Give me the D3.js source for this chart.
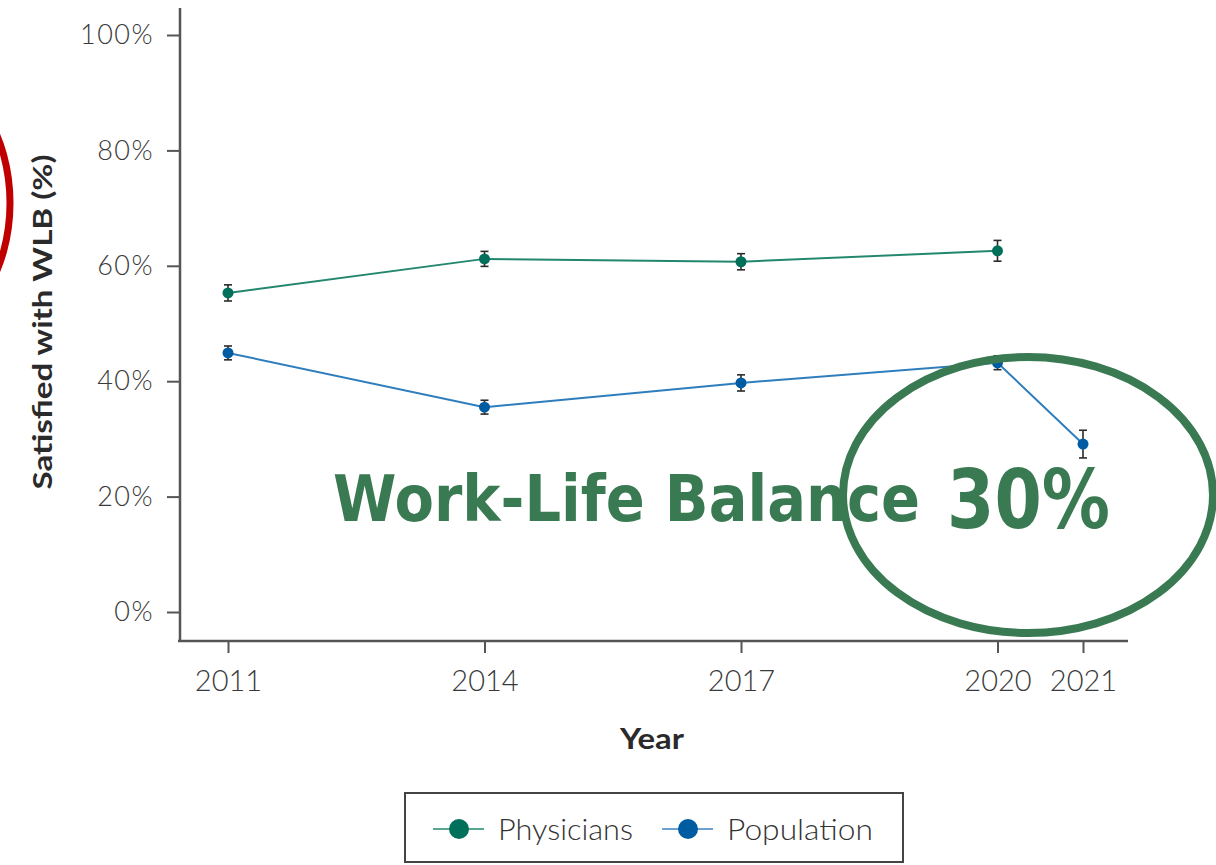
<!DOCTYPE html>
<html>
<head>
<meta charset="utf-8">
<script src="https://cdn.jsdelivr.net/npm/d3@7"></script>
<style>
  html, body { margin: 0; padding: 0; background: #fff; }
  svg { display: block; }
</style>
</head>
<body>
<div id="vis"></div>
<script>
const FRAME_WIDTH = 1216;
const FRAME_HEIGHT = 865;

// survey years and share satisfied with work-life balance (%)
const physYears = [2011, 2014, 2017, 2020];
const physValues = [55.3, 61.2, 60.7, 62.6];
const physErr = [1.4, 1.3, 1.4, 1.8];

const popYears = [2011, 2014, 2017, 2020, 2021];
const popValues = [44.9, 35.5, 39.7, 43.2, 29.1];
const popErr = [1.2, 1.2, 1.4, 1.2, 2.4];

const yearTicks = [2011, 2014, 2017, 2020, 2021];
const pctTicks = [0, 20, 40, 60, 80, 100];

const PHYS_DOT = '#00705a';
const PHYS_LINE = '#23876f';
const POP_DOT = '#005ca2';
const POP_LINE = '#2e7dbd';
const AXIS = '#555';
const NOTE_GREEN = '#3a7a52';
const TEXT_FONT = 'Lato, "Open Sans", sans-serif';

const svg = d3.select('#vis')
  .append('svg')
    .attr('width', FRAME_WIDTH)
    .attr('height', FRAME_HEIGHT);

// scales
const X_SCALE = d3.scaleLinear()
  .domain([2011, 2021])
  .range([228, 1083]);

const Y_SCALE = d3.scaleLinear()
  .domain([0, 100])
  .range([612, 35]);

// y axis
const yAxis = svg.append('g')
  .attr('transform', 'translate(180,0)')
  .call(d3.axisLeft(Y_SCALE).tickValues(pctTicks).tickSize(13).tickPadding(13)
    .tickFormat(d => d + '%'));
yAxis.select('.domain').remove();
yAxis.selectAll('line').attr('stroke', AXIS).attr('stroke-width', 2);
yAxis.selectAll('text')
  .attr('fill', '#3a3a3a')
  .attr('font-family', TEXT_FONT)
  .attr('font-weight', 300)
  .attr('font-size', '27px')
  .attr('letter-spacing', '1.5px');

svg.append('line')
  .attr('x1', 180).attr('x2', 180)
  .attr('y1', 8).attr('y2', 642)
  .attr('stroke', AXIS).attr('stroke-width', 2.5);

// x axis
const xAxis = svg.append('g')
  .attr('transform', 'translate(0,641)')
  .call(d3.axisBottom(X_SCALE).tickValues(yearTicks).tickSize(12).tickPadding(17)
    .tickFormat(d3.format('d')));
xAxis.select('.domain').remove();
xAxis.selectAll('line').attr('stroke', AXIS).attr('stroke-width', 2);
xAxis.selectAll('text')
  .attr('fill', '#3a3a3a')
  .attr('font-family', TEXT_FONT)
  .attr('font-weight', 300)
  .attr('font-size', '29px');

svg.append('line')
  .attr('x1', 178).attr('x2', 1128)
  .attr('y1', 641).attr('y2', 641)
  .attr('stroke', AXIS).attr('stroke-width', 2.5);

// axis titles
svg.append('text')
  .attr('transform', 'translate(52,322) rotate(-90)')
  .attr('text-anchor', 'middle')
  .attr('font-family', TEXT_FONT)
  .attr('font-weight', 700)
  .attr('font-size', '26px')
  .attr('fill', '#2a2a2a')
  .attr('textLength', 335)
  .attr('lengthAdjust', 'spacingAndGlyphs')
  .text('Satisfied with WLB (%)');

svg.append('text')
  .attr('x', 652)
  .attr('y', 749)
  .attr('text-anchor', 'middle')
  .attr('font-family', TEXT_FONT)
  .attr('font-weight', 700)
  .attr('font-size', '29px')
  .attr('fill', '#2a2a2a')
  .attr('textLength', 64)
  .attr('lengthAdjust', 'spacingAndGlyphs')
  .text('Year');

// series
function drawSeries(years, values, errs, dotColor, lineColor) {
  const pts = years.map((yr, i) => ({year: yr, value: values[i], err: errs[i]}));
  const g = svg.append('g');

  g.append('path')
    .datum(pts)
    .attr('fill', 'none')
    .attr('stroke', lineColor)
    .attr('stroke-width', 2)
    .attr('d', d3.line().x(d => X_SCALE(d.year)).y(d => Y_SCALE(d.value)));

  const bars = g.selectAll('.err')
    .data(pts)
    .enter().append('g')
    .attr('stroke', '#2b2b2b')
    .attr('stroke-width', 1.6);
  bars.append('line')
    .attr('x1', d => X_SCALE(d.year)).attr('x2', d => X_SCALE(d.year))
    .attr('y1', d => Y_SCALE(d.value - d.err)).attr('y2', d => Y_SCALE(d.value + d.err));
  bars.append('line')
    .attr('x1', d => X_SCALE(d.year) - 4).attr('x2', d => X_SCALE(d.year) + 4)
    .attr('y1', d => Y_SCALE(d.value - d.err)).attr('y2', d => Y_SCALE(d.value - d.err));
  bars.append('line')
    .attr('x1', d => X_SCALE(d.year) - 4).attr('x2', d => X_SCALE(d.year) + 4)
    .attr('y1', d => Y_SCALE(d.value + d.err)).attr('y2', d => Y_SCALE(d.value + d.err));

  g.selectAll('circle')
    .data(pts)
    .enter().append('circle')
    .attr('cx', d => X_SCALE(d.year))
    .attr('cy', d => Y_SCALE(d.value))
    .attr('r', 5.5)
    .attr('fill', dotColor);
}

drawSeries(physYears, physValues, physErr, PHYS_DOT, PHYS_LINE);
drawSeries(popYears, popValues, popErr, POP_DOT, POP_LINE);

// legend
const legend = svg.append('g');
legend.append('rect')
  .attr('x', 405).attr('y', 793)
  .attr('width', 498).attr('height', 69)
  .attr('fill', '#fff')
  .attr('stroke', '#444')
  .attr('stroke-width', 2);

const legendItems = [
  {label: 'Physicians', dot: PHYS_DOT, line: '#5aa592', x: 433, w: 135},
  {label: 'Population', dot: POP_DOT, line: '#6ba2d3', x: 662, w: 146}
];
legendItems.forEach(item => {
  legend.append('line')
    .attr('x1', item.x).attr('x2', item.x + 51)
    .attr('y1', 829).attr('y2', 829)
    .attr('stroke', item.line).attr('stroke-width', 2);
  legend.append('circle')
    .attr('cx', item.x + 26).attr('cy', 829)
    .attr('r', 10)
    .attr('fill', item.dot);
  legend.append('text')
    .attr('x', item.x + 65).attr('y', 840)
    .attr('font-family', TEXT_FONT)
    .attr('font-weight', 300)
    .attr('font-size', '29px')
    .attr('fill', '#333')
    .attr('textLength', item.w)
    .attr('lengthAdjust', 'spacingAndGlyphs')
    .text(item.label);
});

// annotations
svg.append('ellipse')
  .attr('cx', -80).attr('cy', 203)
  .attr('rx', 90).attr('ry', 130)
  .attr('fill', 'none')
  .attr('stroke', '#c00000')
  .attr('stroke-width', 7);

svg.append('text')
  .attr('x', 333).attr('y', 521)
  .attr('font-family', '"DejaVu Sans", Verdana, sans-serif')
  .attr('font-weight', 700)
  .attr('font-size', '64px')
  .attr('fill', NOTE_GREEN)
  .attr('textLength', 587)
  .attr('lengthAdjust', 'spacingAndGlyphs')
  .text('Work-Life Balance');

svg.append('text')
  .attr('x', 947).attr('y', 528)
  .attr('font-family', '"DejaVu Sans", Verdana, sans-serif')
  .attr('font-weight', 700)
  .attr('font-size', '82px')
  .attr('fill', NOTE_GREEN)
  .attr('textLength', 163)
  .attr('lengthAdjust', 'spacingAndGlyphs')
  .text('30%');

svg.append('ellipse')
  .attr('cx', 1028).attr('cy', 495)
  .attr('rx', 185).attr('ry', 138)
  .attr('fill', 'none')
  .attr('stroke', NOTE_GREEN)
  .attr('stroke-width', 8);
</script>
</body>
</html>
